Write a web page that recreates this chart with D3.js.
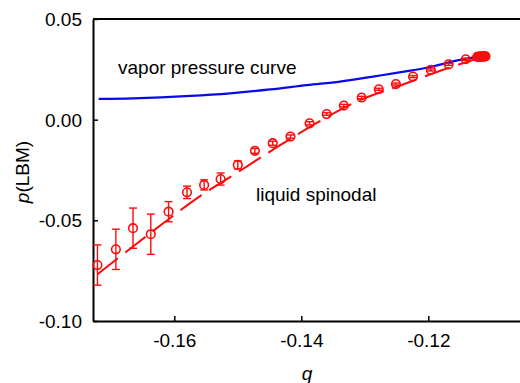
<!DOCTYPE html>
<html>
<head>
<meta charset="utf-8">
<script src="https://cdn.jsdelivr.net/npm/d3@7"></script>
<style>
  html, body { margin: 0; padding: 0; background: #fff; }
  svg { display: block; font-family: "Liberation Sans", Arial, sans-serif; }
</style>
</head>
<body>
<svg id="chart" width="520" height="383"></svg>
<script>
// ---- data ----
const pointQ = [-0.1721, -0.1692, -0.1665, -0.1637, -0.1609, -0.1580, -0.1553, -0.1527, -0.1500, -0.1473, -0.1445,
                -0.1417, -0.1387, -0.1360, -0.1333, -0.1305, -0.1278, -0.1251, -0.1224, -0.1196, -0.1168, -0.1141];
const pointP = [-0.0722, -0.0644, -0.0539, -0.0569, -0.0457, -0.0361, -0.0324, -0.0295, -0.0225, -0.0155, -0.0117,
                -0.0084, -0.0018, 0.0028, 0.0070, 0.0110, 0.0151, 0.0177, 0.0214, 0.0247, 0.0275, 0.0300];
const pointErr = [0.0100, 0.0100, 0.0100, 0.0100, 0.0050, 0.0031, 0.0025, 0.0030, 0.0020, 0.0012, 0.0010,
                  0.0008, 0.0008, 0.0006, 0.0006, 0.0006, 0.0005, 0.0005, 0.0005, 0.0005, 0.0005, 0.0005];
const clusterQ = [-0.1123, -0.1121, -0.1120, -0.1118, -0.1117, -0.1115, -0.1114, -0.1112, -0.1111, -0.1110];
const clusterP = [0.0312, 0.0312, 0.0313, 0.0313, 0.0313, 0.0313, 0.0314, 0.0314, 0.0314, 0.0314];

const fitQ = [-0.1721, -0.1670, -0.1618, -0.1560, -0.1497, -0.1434, -0.1370, -0.1307, -0.1244, -0.1181, -0.1115];
const fitP = [-0.0768, -0.0642, -0.0516, -0.0381, -0.0255, -0.0128, -0.0006, 0.0098, 0.0170, 0.0243, 0.0311];

const vaporQ = [-0.1719, -0.1665, -0.1575, -0.1512, -0.1449, -0.1391, -0.1339, -0.1287, -0.1255, -0.1203, -0.1150, -0.1122];
const vaporP = [0.0103, 0.0106, 0.0118, 0.0131, 0.0150, 0.0172, 0.0189, 0.0214, 0.0230, 0.0258, 0.0297, 0.0313];

const xTicks = [-0.16, -0.14, -0.12];
const yTicks = [0.05, 0.00, -0.05, -0.10];
const xDomain = [-0.1728, -0.10556];
const yDomain = [-0.10, 0.05];

// ---- layout ----
const svg = d3.select("#chart");
const plotLeft = 93, plotRight = 520, plotTop = 19, plotBottom = 321;
const fontSize = 19;

const x = d3.scaleLinear().domain(xDomain).range([plotLeft, plotRight]);
const y = d3.scaleLinear().domain(yDomain).range([plotBottom, plotTop]);

const red = "#ff0a0a";
const blue = "#0a0ae6";

// frame top line
svg.append("line")
  .attr("x1", plotLeft).attr("x2", plotRight)
  .attr("y1", plotTop).attr("y2", plotTop)
  .attr("stroke", "#000").attr("stroke-width", 2);

// axes
const xAxis = svg.append("g")
  .attr("transform", `translate(0,${plotBottom})`)
  .call(d3.axisBottom(x).tickValues(xTicks).tickFormat(d3.format(".2f"))
        .tickSizeInner(-5).tickSizeOuter(0).tickPadding(13));
const yAxis = svg.append("g")
  .attr("transform", `translate(${plotLeft},0)`)
  .call(d3.axisLeft(y).tickValues(yTicks).tickFormat(d3.format(".2f"))
        .tickSizeInner(-5).tickSizeOuter(0).tickPadding(11));

[xAxis, yAxis].forEach(g => {
  g.select(".domain").attr("stroke", "#000").attr("stroke-width", 2);
  g.selectAll(".tick line").attr("stroke", "#000").attr("stroke-width", 1.5);
  g.selectAll(".tick text")
    .attr("fill", "#000")
    .style("font-size", fontSize + "px")
    .style("font-family", '"Liberation Sans", Arial, sans-serif')
    .text(d => d3.format(".2f")(d).replace("−", "-"));
});
yAxis.selectAll(".tick text").attr("dy", "0.35em");

// vapor pressure curve
const vaporData = vaporQ.map((q, i) => [q, vaporP[i]]);
svg.append("path")
  .datum(vaporData)
  .attr("fill", "none")
  .attr("stroke", blue)
  .attr("stroke-width", 2.2)
  .attr("d", d3.line().x(d => x(d[0])).y(d => y(d[1])).curve(d3.curveCatmullRom));

// liquid spinodal fit (dashed)
const fitData = fitQ.map((q, i) => [q, fitP[i]]);
svg.append("path")
  .datum(fitData)
  .attr("fill", "none")
  .attr("stroke", red)
  .attr("stroke-width", 2)
  .attr("stroke-dasharray", "26,9")
  .attr("d", d3.line().x(d => x(d[0])).y(d => y(d[1])).curve(d3.curveCatmullRom));

// error bars
const pts = pointQ.map((q, i) => ({ q, p: pointP[i], e: pointErr[i] }));
const eb = svg.append("g").attr("stroke", red).attr("stroke-width", 1.4).attr("fill", "none");
pts.forEach(d => {
  const cx = x(d.q), y1 = y(d.p + d.e), y2 = y(d.p - d.e);
  eb.append("line").attr("x1", cx).attr("x2", cx).attr("y1", y1).attr("y2", y2);
  eb.append("line").attr("x1", cx - 4).attr("x2", cx + 4).attr("y1", y1).attr("y2", y1);
  eb.append("line").attr("x1", cx - 4).attr("x2", cx + 4).attr("y1", y2).attr("y2", y2);
});

// circles
svg.append("g").selectAll("circle")
  .data(pts)
  .join("circle")
  .attr("cx", d => x(d.q)).attr("cy", d => y(d.p))
  .attr("r", 4.3)
  .attr("fill", "none")
  .attr("stroke", red)
  .attr("stroke-width", 1.6);

const cluster = clusterQ.map((q, i) => ({ q, p: clusterP[i] }));
svg.append("g").selectAll("circle")
  .data(cluster)
  .join("circle")
  .attr("cx", d => x(d.q)).attr("cy", d => y(d.p))
  .attr("r", 4.3)
  .attr("fill", red)
  .attr("stroke", red)
  .attr("stroke-width", 1.6);

// labels
svg.append("text")
  .attr("x", 118).attr("y", 74)
  .style("font-size", fontSize + "px")
  .attr("fill", "#000")
  .text("vapor pressure curve");
svg.append("text")
  .attr("x", 256).attr("y", 201)
  .style("font-size", fontSize + "px")
  .attr("fill", "#000")
  .text("liquid spinodal");

// axis titles
const yt = svg.append("text")
  .attr("transform", "translate(29,172) rotate(-90)")
  .attr("text-anchor", "middle")
  .style("font-size", fontSize + "px")
  .attr("fill", "#000");
yt.append("tspan").style("font-style", "italic").text("p");
yt.append("tspan").text("(LBM)");

svg.append("text")
  .attr("x", 307).attr("y", 380)
  .attr("text-anchor", "middle")
  .style("font-size", fontSize + "px")
  .style("font-style", "italic")
  .attr("fill", "#000")
  .text("q");
</script>
</body>
</html>
